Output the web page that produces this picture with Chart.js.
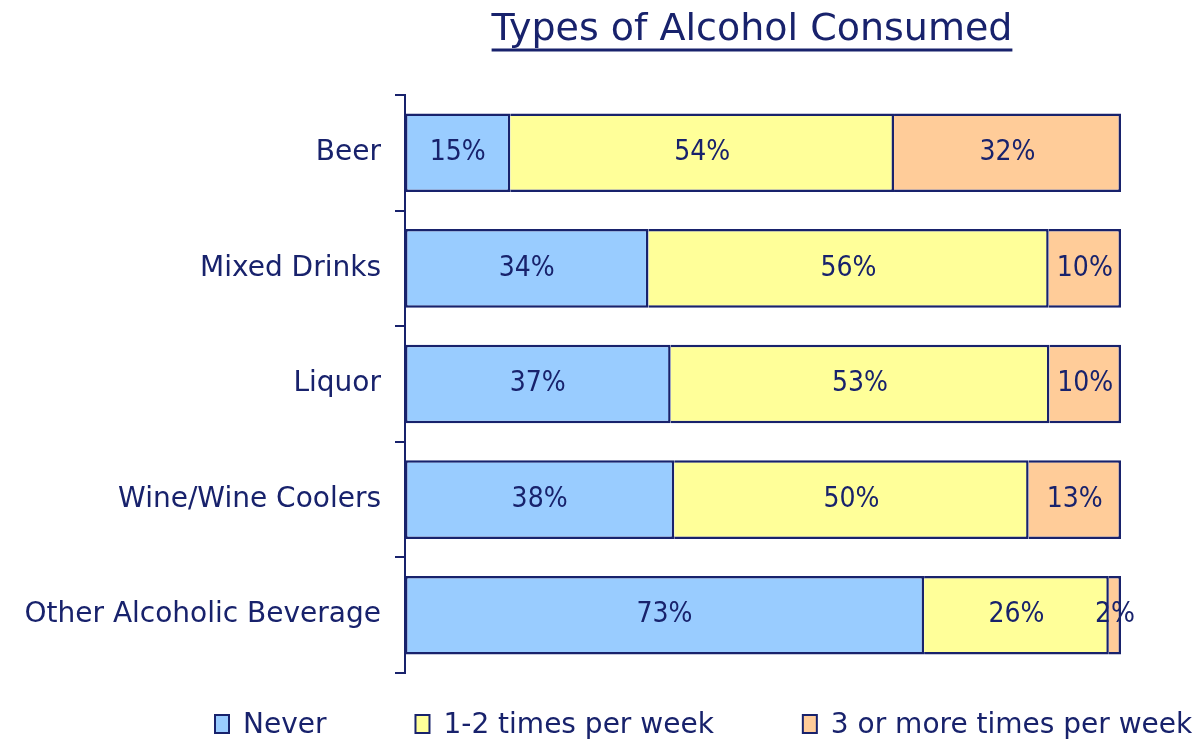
<!DOCTYPE html>
<html>
<head>
<meta charset="utf-8">
<script src="https://cdn.jsdelivr.net/npm/chart.js@4"></script>
<style>
  html, body { margin: 0; padding: 0; background: #ffffff; }
  #wrap { width: 1203px; height: 741px; }
</style>
</head>
<body>
<div id="wrap"><canvas id="alcoholChart" width="1203" height="741"></canvas></div>
<script>
var categories = ["Beer", "Mixed Drinks", "Liquor", "Wine/Wine Coolers", "Other Alcoholic Beverage"];
var seriesNames = ["Never", "1-2 times per week", "3 or more times per week"];
var neverValues = [14.7, 34.0, 37.1, 37.6, 72.5];
var weeklyValues = [53.6, 55.9, 52.9, 49.5, 25.8];
var frequentValues = [31.7, 10.1, 10.0, 12.9, 1.7];

var navy = "#18226c";
var fontFamily = "'DejaVu Sans', sans-serif";

// percentage labels in the middle of each bar piece
var barLabels = {
  id: "barLabels",
  afterDatasetsDraw: function (chart) {
    var ctx = chart.ctx;
    ctx.save();
    ctx.fillStyle = navy;
    ctx.font = "28px 'DejaVu Sans Condensed', sans-serif";
    ctx.textAlign = "center";
    ctx.textBaseline = "middle";
    chart.data.datasets.forEach(function (ds, i) {
      var meta = chart.getDatasetMeta(i);
      meta.data.forEach(function (bar, j) {
        var txt = Math.round(ds.data[j]) + "%";
        ctx.fillText(txt, (bar.x + bar.base) / 2, bar.y);
      });
    });
    ctx.restore();
  }
};

// underlined title
var underlinedTitle = {
  id: "underlinedTitle",
  afterDraw: function (chart) {
    var ctx = chart.ctx;
    var text = "Types of Alcohol Consumed";
    var cx = (chart.chartArea.left + chart.chartArea.right) / 2 - 11;
    ctx.save();
    ctx.font = "38px " + fontFamily;
    ctx.fillStyle = navy;
    ctx.textAlign = "center";
    ctx.textBaseline = "alphabetic";
    ctx.fillText(text, cx, 40);
    var w = ctx.measureText(text).width;
    ctx.strokeStyle = navy;
    ctx.lineWidth = 3;
    ctx.beginPath();
    ctx.moveTo(cx - w / 2, 50);
    ctx.lineTo(cx + w / 2, 50);
    ctx.stroke();
    ctx.restore();
  }
};

// legend row under the plot
var bottomLegend = {
  id: "bottomLegend",
  afterDraw: function (chart) {
    var ctx = chart.ctx;
    var x = 215;
    var cy = 724;
    ctx.save();
    ctx.font = "28px " + fontFamily;
    ctx.textBaseline = "middle";
    ctx.textAlign = "left";
    chart.data.datasets.forEach(function (ds) {
      ctx.fillStyle = ds.backgroundColor;
      ctx.fillRect(x, cy - 9, 14, 18);
      ctx.strokeStyle = navy;
      ctx.lineWidth = 2;
      ctx.strokeRect(x, cy - 9, 14, 18);
      ctx.fillStyle = navy;
      ctx.fillText(ds.label, x + 28, cy + 2);
      x += 28 + ctx.measureText(ds.label).width + 89;
    });
    ctx.restore();
  }
};

var ctx = document.getElementById("alcoholChart").getContext("2d");
var myChart = new Chart(ctx, {
  type: "bar",
  data: {
    labels: categories,
    datasets: [
      {
        label: seriesNames[0],
        data: neverValues,
        backgroundColor: "#99ccff",
        borderColor: navy,
        borderWidth: 2.5,
        borderSkipped: false
      },
      {
        label: seriesNames[1],
        data: weeklyValues,
        backgroundColor: "#ffff99",
        borderColor: navy,
        borderWidth: 2.5,
        borderSkipped: "start"
      },
      {
        label: seriesNames[2],
        data: frequentValues,
        backgroundColor: "#ffcc99",
        borderColor: navy,
        borderWidth: 2.5,
        borderSkipped: "start"
      }
    ]
  },
  options: {
    indexAxis: "y",
    responsive: false,
    animation: false,
    barPercentage: 0.68,
    categoryPercentage: 1,
    layout: {
      padding: { top: 95, right: 82, bottom: 68, left: 0 }
    },
    plugins: {
      legend: { display: false },
      title: { display: false },
      tooltip: { enabled: false }
    },
    scales: {
      x: {
        display: false,
        stacked: true,
        min: 0,
        max: 100
      },
      y: {
        stacked: true,
        afterFit: function (scale) {
          scale.width = 405;
        },
        grid: {
          drawOnChartArea: false,
          offset: true,
          tickLength: 10,
          color: navy,
          lineWidth: 2
        },
        border: { display: true, color: navy, width: 2 },
        ticks: {
          color: navy,
          padding: 14,
          font: { family: fontFamily, size: 28 }
        }
      }
    }
  },
  plugins: [barLabels, underlinedTitle, bottomLegend]
});
</script>
</body>
</html>
